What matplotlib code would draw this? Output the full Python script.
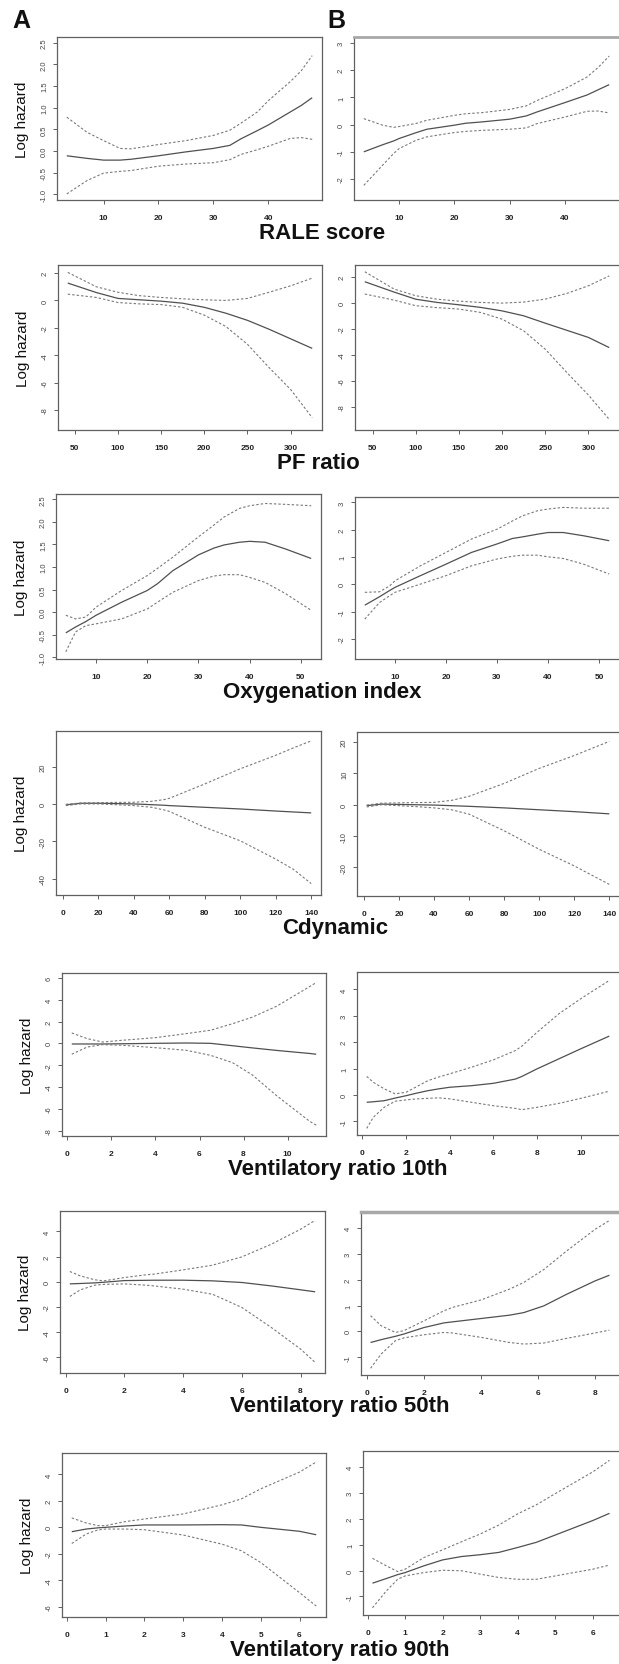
import numpy as np
import matplotlib
matplotlib.use("Agg")
import matplotlib.pyplot as plt

plt.rcParams["axes.unicode_minus"] = False
plt.rcParams["font.family"] = ["Liberation Sans", "DejaVu Sans"]

W, H = 619, 1665

# ---- data (x, fitted log hazard, upper CI, lower CI) ----
# RALE score
rale_x_a = [3.3, 7, 10, 13, 15, 20, 25, 30, 33, 35, 38, 40, 44, 46, 48]
rale_fit_a = [-0.11, -0.17, -0.21, -0.21, -0.19, -0.11, -0.02, 0.06, 0.13, 0.28, 0.47, 0.6, 0.9, 1.05, 1.23]
rale_hi_a = [0.78, 0.43, 0.24, 0.06, 0.05, 0.15, 0.24, 0.36, 0.48, 0.64, 0.9, 1.16, 1.6, 1.85, 2.2]
rale_lo_a = [-0.99, -0.68, -0.51, -0.47, -0.45, -0.35, -0.3, -0.27, -0.2, -0.08, 0.03, 0.11, 0.29, 0.31, 0.27]

rale_x_b = [3.6, 7, 9, 10, 13, 15, 20, 22, 25, 30, 33, 35, 40, 44, 46, 48]
rale_fit_b = [-1.0, -0.74, -0.6, -0.51, -0.3, -0.17, -0.02, 0.05, 0.1, 0.2, 0.32, 0.47, 0.81, 1.09, 1.28, 1.47]
rale_hi_b = [0.22, -0.02, -0.1, -0.07, 0.04, 0.16, 0.34, 0.4, 0.44, 0.56, 0.69, 0.89, 1.32, 1.75, 2.1, 2.52]
rale_lo_b = [-2.23, -1.49, -1.06, -0.88, -0.58, -0.45, -0.29, -0.25, -0.21, -0.17, -0.12, 0.04, 0.28, 0.49, 0.5, 0.43]

# PF ratio
pf_x_a = [42, 75, 100, 125, 150, 175, 200, 225, 250, 275, 300, 325]
pf_fit_a = [1.27, 0.58, 0.15, 0.05, -0.05, -0.2, -0.5, -0.93, -1.45, -2.1, -2.8, -3.5]
pf_hi_a = [2.05, 1.0, 0.6, 0.35, 0.22, 0.12, 0.05, 0.0, 0.15, 0.6, 1.07, 1.63]
pf_lo_a = [0.46, 0.22, -0.15, -0.25, -0.3, -0.5, -1.07, -1.9, -3.2, -4.9, -6.5, -8.56]

pf_x_b = [41, 75, 100, 125, 150, 175, 200, 225, 250, 275, 300, 324]
pf_fit_b = [1.65, 0.85, 0.3, 0.05, -0.13, -0.33, -0.6, -0.98, -1.55, -2.1, -2.65, -3.43]
pf_hi_b = [2.42, 1.08, 0.57, 0.3, 0.15, 0.05, 0.0, 0.08, 0.31, 0.75, 1.34, 2.1]
pf_lo_b = [0.7, 0.23, -0.2, -0.35, -0.46, -0.72, -1.24, -2.14, -3.56, -5.36, -7.1, -8.97]

# Oxygenation index
oxy_x_a = [4.1, 6, 8, 10, 15, 20, 22, 25, 30, 33, 35, 38, 40, 43, 47, 52]
oxy_fit_a = [-0.46, -0.33, -0.21, -0.07, 0.22, 0.48, 0.63, 0.92, 1.27, 1.42, 1.49, 1.55, 1.57, 1.55, 1.4, 1.19]
oxy_hi_a = [-0.07, -0.15, -0.11, 0.11, 0.48, 0.81, 0.97, 1.22, 1.67, 1.93, 2.11, 2.3, 2.36, 2.41, 2.39, 2.36]
oxy_lo_a = [-0.88, -0.44, -0.3, -0.26, -0.15, 0.07, 0.22, 0.44, 0.7, 0.8, 0.83, 0.83, 0.77, 0.66, 0.41, 0.04]

oxy_x_b = [4.1, 7, 9, 10, 15, 20, 25, 30, 33, 35, 38, 40, 43, 47, 52]
oxy_fit_b = [-0.76, -0.45, -0.22, -0.11, 0.32, 0.74, 1.17, 1.48, 1.68, 1.74, 1.84, 1.9, 1.9, 1.78, 1.6]
oxy_hi_b = [-0.29, -0.27, -0.05, 0.13, 0.68, 1.17, 1.66, 2.02, 2.32, 2.51, 2.7, 2.76, 2.82, 2.79, 2.79]
oxy_lo_b = [-1.27, -0.66, -0.41, -0.29, 0.01, 0.32, 0.68, 0.93, 1.03, 1.07, 1.07, 1.01, 0.95, 0.74, 0.38]

# Cdynamic
cdyn_x_a = [1.6, 10, 20, 30, 40, 50, 57, 60, 80, 100, 120, 130, 140]
cdyn_fit_a = [-0.5, 0.35, 0.35, 0.2, 0.0, -0.4, -0.7, -0.9, -1.8, -2.7, -3.8, -4.3, -4.8]
cdyn_hi_a = [-0.2, 0.5, 0.7, 0.8, 0.9, 1.4, 2.3, 3.0, 10.7, 18.8, 26.0, 30.0, 33.7]
cdyn_lo_a = [-0.9, 0.0, 0.0, -0.4, -0.9, -1.8, -3.2, -4.0, -12.5, -19.7, -29.5, -35.0, -42.6]

cdyn_x_b = [1.6, 10, 20, 30, 40, 50, 60, 80, 100, 120, 140]
cdyn_fit_b = [-0.3, 0.2, 0.1, 0.0, -0.1, -0.3, -0.5, -1.0, -1.6, -2.2, -2.9]
cdyn_hi_b = [-0.1, 0.5, 0.6, 0.7, 0.75, 1.4, 2.7, 6.8, 11.6, 15.7, 20.2]
cdyn_lo_b = [-0.7, 0.0, -0.3, -0.6, -1.0, -1.6, -3.0, -8.3, -14.2, -19.5, -25.4]

# Ventilatory ratio 10th
vr10_x_a = [0.2, 0.9, 1.6, 2.5, 4, 5.4, 6.5, 7.5, 8.4, 9.5, 11, 11.3]
vr10_fit_a = [-0.06, -0.06, -0.06, -0.04, 0.0, 0.03, 0.0, -0.22, -0.42, -0.65, -0.93, -1.0]
vr10_hi_a = [0.95, 0.43, 0.12, 0.28, 0.52, 0.89, 1.2, 1.8, 2.4, 3.4, 5.2, 5.57]
vr10_lo_a = [-1.0, -0.34, -0.12, -0.18, -0.4, -0.64, -1.1, -1.77, -2.9, -4.8, -7.15, -7.5]

vr10_x_b = [0.2, 0.5, 1, 1.5, 2, 2.5, 3, 3.5, 4, 5, 6, 7, 7.3, 8, 9, 10, 11.3]
vr10_fit_b = [-0.28, -0.26, -0.22, -0.12, -0.03, 0.07, 0.16, 0.23, 0.29, 0.35, 0.44, 0.6, 0.7, 0.99, 1.37, 1.75, 2.23]
vr10_hi_b = [0.7, 0.48, 0.23, 0.04, 0.1, 0.32, 0.54, 0.68, 0.8, 1.05, 1.33, 1.68, 1.85, 2.38, 3.08, 3.65, 4.34]
vr10_lo_b = [-1.27, -0.85, -0.47, -0.24, -0.19, -0.15, -0.13, -0.11, -0.15, -0.28, -0.41, -0.51, -0.56, -0.47, -0.32, -0.13, 0.14]

# Ventilatory ratio 50th
vr50_x_a = [0.14, 0.5, 1, 1.3, 2, 2.7, 3, 4, 5, 6, 7, 8, 8.5]
vr50_fit_a = [-0.16, -0.13, -0.08, -0.03, 0.1, 0.12, 0.13, 0.13, 0.08, -0.05, -0.32, -0.63, -0.79]
vr50_hi_a = [0.82, 0.47, 0.16, 0.08, 0.34, 0.55, 0.61, 0.95, 1.32, 1.98, 2.98, 4.17, 4.88]
vr50_lo_a = [-1.16, -0.63, -0.26, -0.2, -0.16, -0.26, -0.32, -0.58, -0.98, -2.03, -3.61, -5.33, -6.39]

vr50_x_b = [0.13, 0.5, 1, 1.3, 2, 2.7, 3, 4, 5, 5.5, 6.2, 7, 8, 8.5]
vr50_fit_b = [-0.43, -0.32, -0.19, -0.1, 0.15, 0.33, 0.37, 0.5, 0.63, 0.73, 0.99, 1.44, 1.96, 2.18]
vr50_hi_b = [0.61, 0.22, -0.04, 0.03, 0.41, 0.8, 0.93, 1.22, 1.64, 1.9, 2.4, 3.12, 3.96, 4.3]
vr50_lo_b = [-1.43, -0.88, -0.36, -0.25, -0.13, -0.04, -0.06, -0.23, -0.43, -0.49, -0.45, -0.27, -0.06, 0.05]

# Ventilatory ratio 90th
vr90_x_a = [0.13, 0.5, 0.8, 1, 1.5, 2, 3, 4, 4.5, 5, 6, 6.43]
vr90_fit_a = [-0.33, -0.13, -0.04, 0.0, 0.1, 0.18, 0.18, 0.2, 0.18, 0.0, -0.3, -0.56]
vr90_hi_a = [0.71, 0.33, 0.13, 0.13, 0.43, 0.63, 1.01, 1.7, 2.15, 2.91, 4.18, 4.94]
vr90_lo_a = [-1.22, -0.51, -0.2, -0.13, -0.13, -0.18, -0.58, -1.27, -1.77, -2.66, -4.94, -5.95]

vr90_x_b = [0.13, 0.5, 0.8, 1, 1.5, 2, 2.5, 3, 3.5, 4, 4.5, 5, 6, 6.45]
vr90_fit_b = [-0.49, -0.31, -0.16, -0.08, 0.18, 0.41, 0.54, 0.61, 0.7, 0.89, 1.09, 1.37, 1.93, 2.21]
vr90_hi_b = [0.47, 0.18, -0.04, 0.05, 0.5, 0.8, 1.11, 1.41, 1.76, 2.19, 2.54, 2.97, 3.81, 4.26]
vr90_lo_b = [-1.44, -0.79, -0.34, -0.21, -0.08, 0.01, -0.01, -0.14, -0.27, -0.34, -0.34, -0.21, 0.05, 0.21]

# ---- axis ticks ----
rale_xticks = [10, 20, 30, 40]
pf_xticks = [50, 100, 150, 200, 250, 300]
oxy_xticks = [10, 20, 30, 40, 50]
cdyn_xticks = [0, 20, 40, 60, 80, 100, 120, 140]
vr10_xticks = [0, 2, 4, 6, 8, 10]
vr50_xticks = [0, 2, 4, 6, 8]
vr90_xticks = [0, 1, 2, 3, 4, 5, 6]

half_yticks = [-1.0, -0.5, 0.0, 0.5, 1.0, 1.5, 2.0, 2.5]
unit_yticks = [-2, -1, 0, 1, 2, 3]
pf_yticks = [-8, -6, -4, -2, 0, 2]
cdyn_yticks_a = [-40, -20, 0, 20]
cdyn_yticks_b = [-20, -10, 0, 10, 20]
vr10_yticks_a = [-8, -6, -4, -2, 0, 2, 4, 6]
vr_yticks_b = [-1, 0, 1, 2, 3, 4]
vr_yticks_a = [-6, -4, -2, 0, 2, 4]

row_titles = ["RALE score", "PF ratio", "Oxygenation index", "Cdynamic",
              "Ventilatory ratio 10th", "Ventilatory ratio 50th", "Ventilatory ratio 90th"]
# horizontal centre of each row title, in pixels
title_x = [322, 318, 322, 335, 338, 340, 340]

# panel boxes in pixels (left, top, right, bottom) and y limits
panels = [
    # row 1
    (rale_x_a, rale_fit_a, rale_hi_a, rale_lo_a, (57, 38, 322, 201), (-1.13, 2.63), rale_xticks, half_yticks, "%.1f"),
    (rale_x_b, rale_fit_b, rale_hi_b, rale_lo_b, (354, 38, 619, 201), (-2.77, 3.22), rale_xticks, unit_yticks, "%d"),
    # row 2
    (pf_x_a, pf_fit_a, pf_hi_a, pf_lo_a, (58, 266, 322, 431), (-9.46, 2.59), pf_xticks, pf_yticks, "%d"),
    (pf_x_b, pf_fit_b, pf_hi_b, pf_lo_b, (355, 266, 619, 431), (-9.79, 2.94), pf_xticks, pf_yticks, "%d"),
    # row 3
    (oxy_x_a, oxy_fit_a, oxy_hi_a, oxy_lo_a, (56, 495, 321, 660), (-1.04, 2.62), oxy_xticks, half_yticks, "%.1f"),
    (oxy_x_b, oxy_fit_b, oxy_hi_b, oxy_lo_b, (355, 498, 619, 660), (-2.73, 3.2), oxy_xticks, unit_yticks, "%d"),
    # row 4
    (cdyn_x_a, cdyn_fit_a, cdyn_hi_a, cdyn_lo_a, (56, 732, 321, 896), (-48.7, 39.0), cdyn_xticks, cdyn_yticks_a, "%d"),
    (cdyn_x_b, cdyn_fit_b, cdyn_hi_b, cdyn_lo_b, (357, 733, 619, 897), (-29.1, 23.2), cdyn_xticks, cdyn_yticks_b, "%d"),
    # row 5
    (vr10_x_a, vr10_fit_a, vr10_hi_a, vr10_lo_a, (62, 974, 326, 1137), (-8.5, 6.45), vr10_xticks, vr10_yticks_a, "%d"),
    (vr10_x_b, vr10_fit_b, vr10_hi_b, vr10_lo_b, (357, 973, 619, 1136), (-1.52, 4.66), vr10_xticks, vr_yticks_b, "%d"),
    # row 6
    (vr50_x_a, vr50_fit_a, vr50_hi_a, vr50_lo_a, (60, 1212, 325, 1374), (-7.23, 5.62), vr50_xticks, vr_yticks_a, "%d"),
    (vr50_x_b, vr50_fit_b, vr50_hi_b, vr50_lo_b, (361, 1213, 619, 1376), (-1.69, 4.63), vr50_xticks, vr_yticks_b, "%d"),
    # row 7
    (vr90_x_a, vr90_fit_a, vr90_hi_a, vr90_lo_a, (62, 1454, 326, 1618), (-6.78, 5.62), vr90_xticks, vr_yticks_a, "%d"),
    (vr90_x_b, vr90_fit_b, vr90_hi_b, vr90_lo_b, (363, 1452, 619, 1616), (-1.72, 4.62), vr90_xticks, vr_yticks_b, "%d"),
]

LINE = "#505050"
DASH = "#7a7a7a"
BOX = "#606060"

fig = plt.figure(figsize=(W / 100, H / 100), dpi=100)
fig.patch.set_facecolor("white")

for i, (x, fit, hi, lo, box, ylim, xt, yt, fmt) in enumerate(panels):
    l, t, r, b = box
    ax = fig.add_axes([l / W, 1 - b / H, (r - l) / W, (b - t) / H])
    x = np.asarray(x)
    ax.plot(x, fit, color=LINE, lw=0.9, solid_capstyle="butt")
    ax.plot(x, hi, color=DASH, lw=0.8, dashes=(2.2, 1.8))
    ax.plot(x, lo, color=DASH, lw=0.8, dashes=(2.2, 1.8))

    # R-style 4% padding of the x range
    pad = 0.04 * (x.max() - x.min())
    ax.set_xlim(x.min() - pad, x.max() + pad)
    ax.set_ylim(*ylim)

    ax.set_xticks(xt)
    ax.set_xticklabels([str(v) for v in xt])
    ax.set_yticks(yt)
    ax.set_yticklabels([fmt % v for v in yt], rotation=90, va="center")

    ax.tick_params(axis="both", direction="out", length=3, width=0.7, colors=BOX)
    ax.tick_params(axis="x", pad=7, labelsize=6, labelcolor="#222222")
    ax.tick_params(axis="y", pad=3.5, labelsize=5.5, labelcolor="#444444")
    for lab in ax.get_xticklabels():
        lab.set_fontweight("bold")

    for side in ax.spines.values():
        side.set_color(BOX)
        side.set_linewidth(0.9)
    if i % 2 == 1:
        ax.spines["right"].set_visible(False)
    ax.set_facecolor("white")

    if i % 2 == 0:
        row = i // 2
        fig.text((l - 35) / W, 1 - ((t + b) / 2) / H, "Log hazard", rotation=90,
                 ha="center", va="center", fontsize=11, color="#111111")
        fig.text(title_x[row] / W, 1 - (b + 38) / H, row_titles[row], ha="center",
                 va="baseline", fontsize=16, fontweight="bold", color="#111111")

# light grey top edges seen on two of the right-hand panels
fig.axes[1].spines["top"].set_color("#a8a8a8")
fig.axes[1].spines["top"].set_linewidth(2)
fig.axes[11].spines["top"].set_color("#a8a8a8")
fig.axes[11].spines["top"].set_linewidth(2.5)

fig.text(12 / W, 1 - 28 / H, "A", ha="left", va="baseline", fontsize=18,
         fontweight="bold", color="#111111")
fig.text(327 / W, 1 - 28 / H, "B", ha="left", va="baseline", fontsize=18,
         fontweight="bold", color="#111111")

fig.savefig("out.png", dpi=100, facecolor="white")
